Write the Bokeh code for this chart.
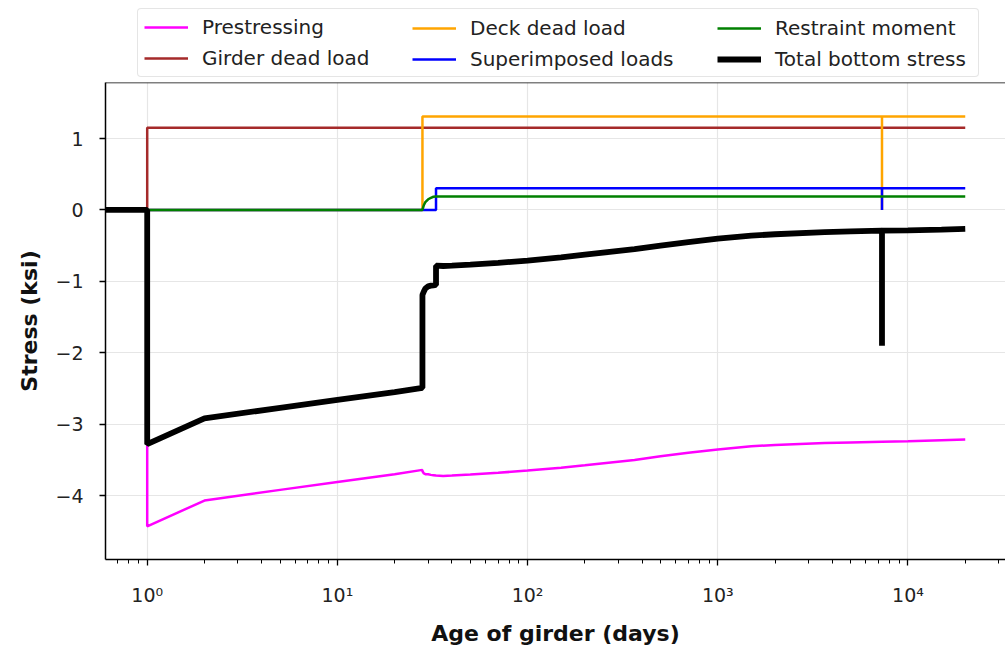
from bokeh.plotting import figure
from bokeh.layouts import column
from bokeh.models import Legend, LegendItem, FixedTicker, Range1d, Span
from bokeh.embed import file_html
from bokeh.resources import INLINE

# ---------------- data ----------------
age_days = [0.1, 1, 1, 2, 5, 10, 20, 28, 28, 28.5, 29, 30, 31, 32, 33, 33, 36, 40, 50, 70,
            100, 150, 200, 365, 500, 700, 1000, 1500, 2000, 3650, 5000, 7300, 7300, 7300,
            10000, 15000, 20000]

prestressing = [0, 0, -4.43, -4.07, -3.92, -3.81, -3.70, -3.64, -3.66, -3.69, -3.70, -3.70, -3.71,
                -3.715, -3.72, -3.72, -3.725, -3.72, -3.705, -3.68, -3.65, -3.61, -3.575,
                -3.50, -3.45, -3.40, -3.355, -3.31, -3.29, -3.265, -3.255, -3.245, -3.235, -3.245,
                -3.24, -3.225, -3.215]

girder_dead = [0, 0, 1.15, 1.15, 1.15, 1.15, 1.15, 1.15, 1.15, 1.15, 1.15, 1.15, 1.15, 1.15, 1.15,
               1.15, 1.15, 1.15, 1.15, 1.15, 1.15, 1.15, 1.15, 1.15, 1.15, 1.15, 1.15, 1.15, 1.15,
               1.15, 1.15, 1.15, 1.15, 1.15, 1.15, 1.15, 1.15]

deck_dead = [0, 0, 0, 0, 0, 0, 0, 0, 1.31, 1.31, 1.31, 1.31, 1.31, 1.31, 1.31, 1.31, 1.31, 1.31,
             1.31, 1.31, 1.31, 1.31, 1.31, 1.31, 1.31, 1.31, 1.31, 1.31, 1.31, 1.31, 1.31, 1.31,
             0, 1.31, 1.31, 1.31, 1.31]

superimposed = [0, 0, 0, 0, 0, 0, 0, 0, 0, 0, 0, 0, 0, 0, 0, 0.305, 0.305, 0.305, 0.305, 0.305,
                0.305, 0.305, 0.305, 0.305, 0.305, 0.305, 0.305, 0.305, 0.305, 0.305, 0.305, 0.305,
                0, 0.305, 0.305, 0.305, 0.305]

restraint = [0, 0, 0, 0, 0, 0, 0, 0, 0, 0.07, 0.11, 0.15, 0.17, 0.185, 0.19, 0.19, 0.19, 0.19,
             0.19, 0.19, 0.19, 0.19, 0.19, 0.19, 0.19, 0.19, 0.19, 0.19, 0.19, 0.19, 0.19, 0.19,
             0.19, 0.19, 0.19, 0.19, 0.19]

total_bottom = [0, 0, -3.28, -2.92, -2.77, -2.66, -2.55, -2.49, -1.19, -1.14, -1.10, -1.07, -1.06,
                -1.055, -1.05, -0.78, -0.785, -0.78, -0.765, -0.74, -0.71, -0.665, -0.625,
                -0.55, -0.50, -0.45, -0.40, -0.36, -0.34, -0.31, -0.30, -0.29, -1.90, -0.29,
                -0.285, -0.275, -0.265]

series_names = ["Prestressing", "Girder dead load", "Deck dead load",
                "Superimposed loads", "Restraint moment", "Total bottom stress"]
series_colors = ["#ff00ff", "#a52a2a", "#ffa500", "#0000ff", "#008000", "#000000"]
series_widths = [2.5, 2.5, 2.5, 2.5, 2.5, 5.8]

x_tick_values = [1, 10, 100, 1000, 10000]
x_tick_labels = ["10\u2070", "10\u00b9", "10\u00b2", "10\u00b3", "10\u2074"]
y_tick_values = [-4, -3, -2, -1, 0, 1]
y_tick_labels = ["\u22124", "\u22123", "\u22122", "\u22121", "0", "1"]

FONT = "DejaVu Sans"
W = 1005
LEG_H = 80
MAIN_H = 572
BOTTOM_BORDER = 93
Y_END = 1.785

all_series = [prestressing, girder_dead, deck_dead, superimposed, restraint, total_bottom]

# ---------------- main chart ----------------
p = figure(width=W, height=MAIN_H, x_axis_type="log",
           x_range=Range1d(0.6036, 32560), y_range=Range1d(-4.895, Y_END),
           output_backend="svg", toolbar_location=None,
           min_border_left=105, min_border_right=0, min_border_top=2,
           min_border_bottom=BOTTOM_BORDER)
p.outline_line_color = None
p.background_fill_color = "white"
p.border_fill_color = "white"

for ys, c, w in zip(all_series, series_colors, series_widths):
    p.line(age_days, ys, line_color=c, line_width=w)

# top spine
p.add_layout(Span(location=Y_END, dimension="width", line_color="black", line_width=1.5))

minor = []
for dec in [0.1, 1, 10, 100, 1000, 10000]:
    for m in range(2, 10):
        minor.append(dec * m)
xa = p.xaxis[0]
xa.ticker = FixedTicker(ticks=x_tick_values, minor_ticks=minor)
xa.major_label_overrides = {v: l for v, l in zip(x_tick_values, x_tick_labels)}
ya = p.yaxis[0]
ya.ticker = FixedTicker(ticks=y_tick_values, minor_ticks=[])
ya.major_label_overrides = {v: l for v, l in zip(y_tick_values, y_tick_labels)}

for ax in (xa, ya):
    ax.axis_line_color = "black"
    ax.axis_line_width = 1.5
    ax.major_tick_line_color = "black"
    ax.major_tick_line_width = 1.3
    ax.minor_tick_line_color = "black"
    ax.minor_tick_line_width = 1.0
    ax.major_tick_in = 0
    ax.major_tick_out = 6
    ax.minor_tick_in = 0
    ax.minor_tick_out = 4
    ax.major_label_text_font = FONT
    ax.major_label_text_font_size = "19px"
    ax.major_label_text_color = "#222222"
    ax.axis_label_text_font = FONT
    ax.axis_label_text_font_size = "22px"
    ax.axis_label_text_font_style = "bold"
    ax.axis_label_text_color = "#111111"

xa.axis_label = "Age of girder (days)"
xa.major_label_standoff = 18
xa.axis_label_standoff = 12
ya.axis_label = "Stress (ksi)"
ya.major_label_standoff = 16
ya.axis_label_standoff = 10

p.xgrid.ticker = FixedTicker(ticks=x_tick_values)
p.ygrid.ticker = FixedTicker(ticks=y_tick_values)
for g in (p.xgrid, p.ygrid):
    g.grid_line_color = "#e6e6e6"
    g.grid_line_width = 1.2

# ---------------- legend strip (same series, kept out of view) ----------------
lf = figure(width=W, height=LEG_H, x_range=Range1d(-10, -9), y_range=Range1d(-10, -9),
            output_backend="svg", toolbar_location=None,
            x_axis_location=None, y_axis_location=None,
            min_border_left=0, min_border_right=0, min_border_top=0, min_border_bottom=0)
lf.outline_line_color = None
lf.xgrid.visible = False
lf.ygrid.visible = False
lf.border_fill_color = "white"
lf.background_fill_color = "white"

leg_renderers = []
for ys, c, w in zip(all_series, series_colors, series_widths):
    leg_renderers.append(lf.line(age_days, ys, line_color=c, line_width=w))

PAD = 6
ITEM_H = 24
ROW_GAP = 7
legend_h = 2 * PAD + 2 * ITEM_H + ROW_GAP
legend_top = 10
loc_y = LEG_H - legend_top - legend_h
col_x = [32, 301, 606]          # offsets from the (aligned) frame left
box_width = 840

for ci in range(3):
    items = [LegendItem(label=series_names[k], renderers=[leg_renderers[k]])
             for k in (2 * ci, 2 * ci + 1)]
    lg = Legend(items=items, orientation="vertical", location=(col_x[ci], loc_y))
    lg.label_text_font = FONT
    lg.label_text_font_size = "20px"
    lg.label_text_color = "#222222"
    lg.glyph_width = 44
    lg.glyph_height = ITEM_H
    lg.label_height = ITEM_H
    lg.label_standoff = 14
    lg.spacing = ROW_GAP
    lg.padding = PAD
    lg.margin = 0
    if ci == 0:
        lg.label_width = box_width - 2 * PAD - 44 - 14
        lg.border_line_color = "#cccccc"
        lg.border_line_width = 1.2
        lg.background_fill_color = "white"
        lg.background_fill_alpha = 0.8
        try:
            lg.border_radius = 4
        except Exception:
            pass
    else:
        lg.border_line_color = "white"
        lg.border_line_alpha = 0.0
        lg.background_fill_alpha = 0.0
    lf.add_layout(lg)

layout = column(lf, p, spacing=0)
open("out.html", "w").write(file_html(layout, INLINE))
